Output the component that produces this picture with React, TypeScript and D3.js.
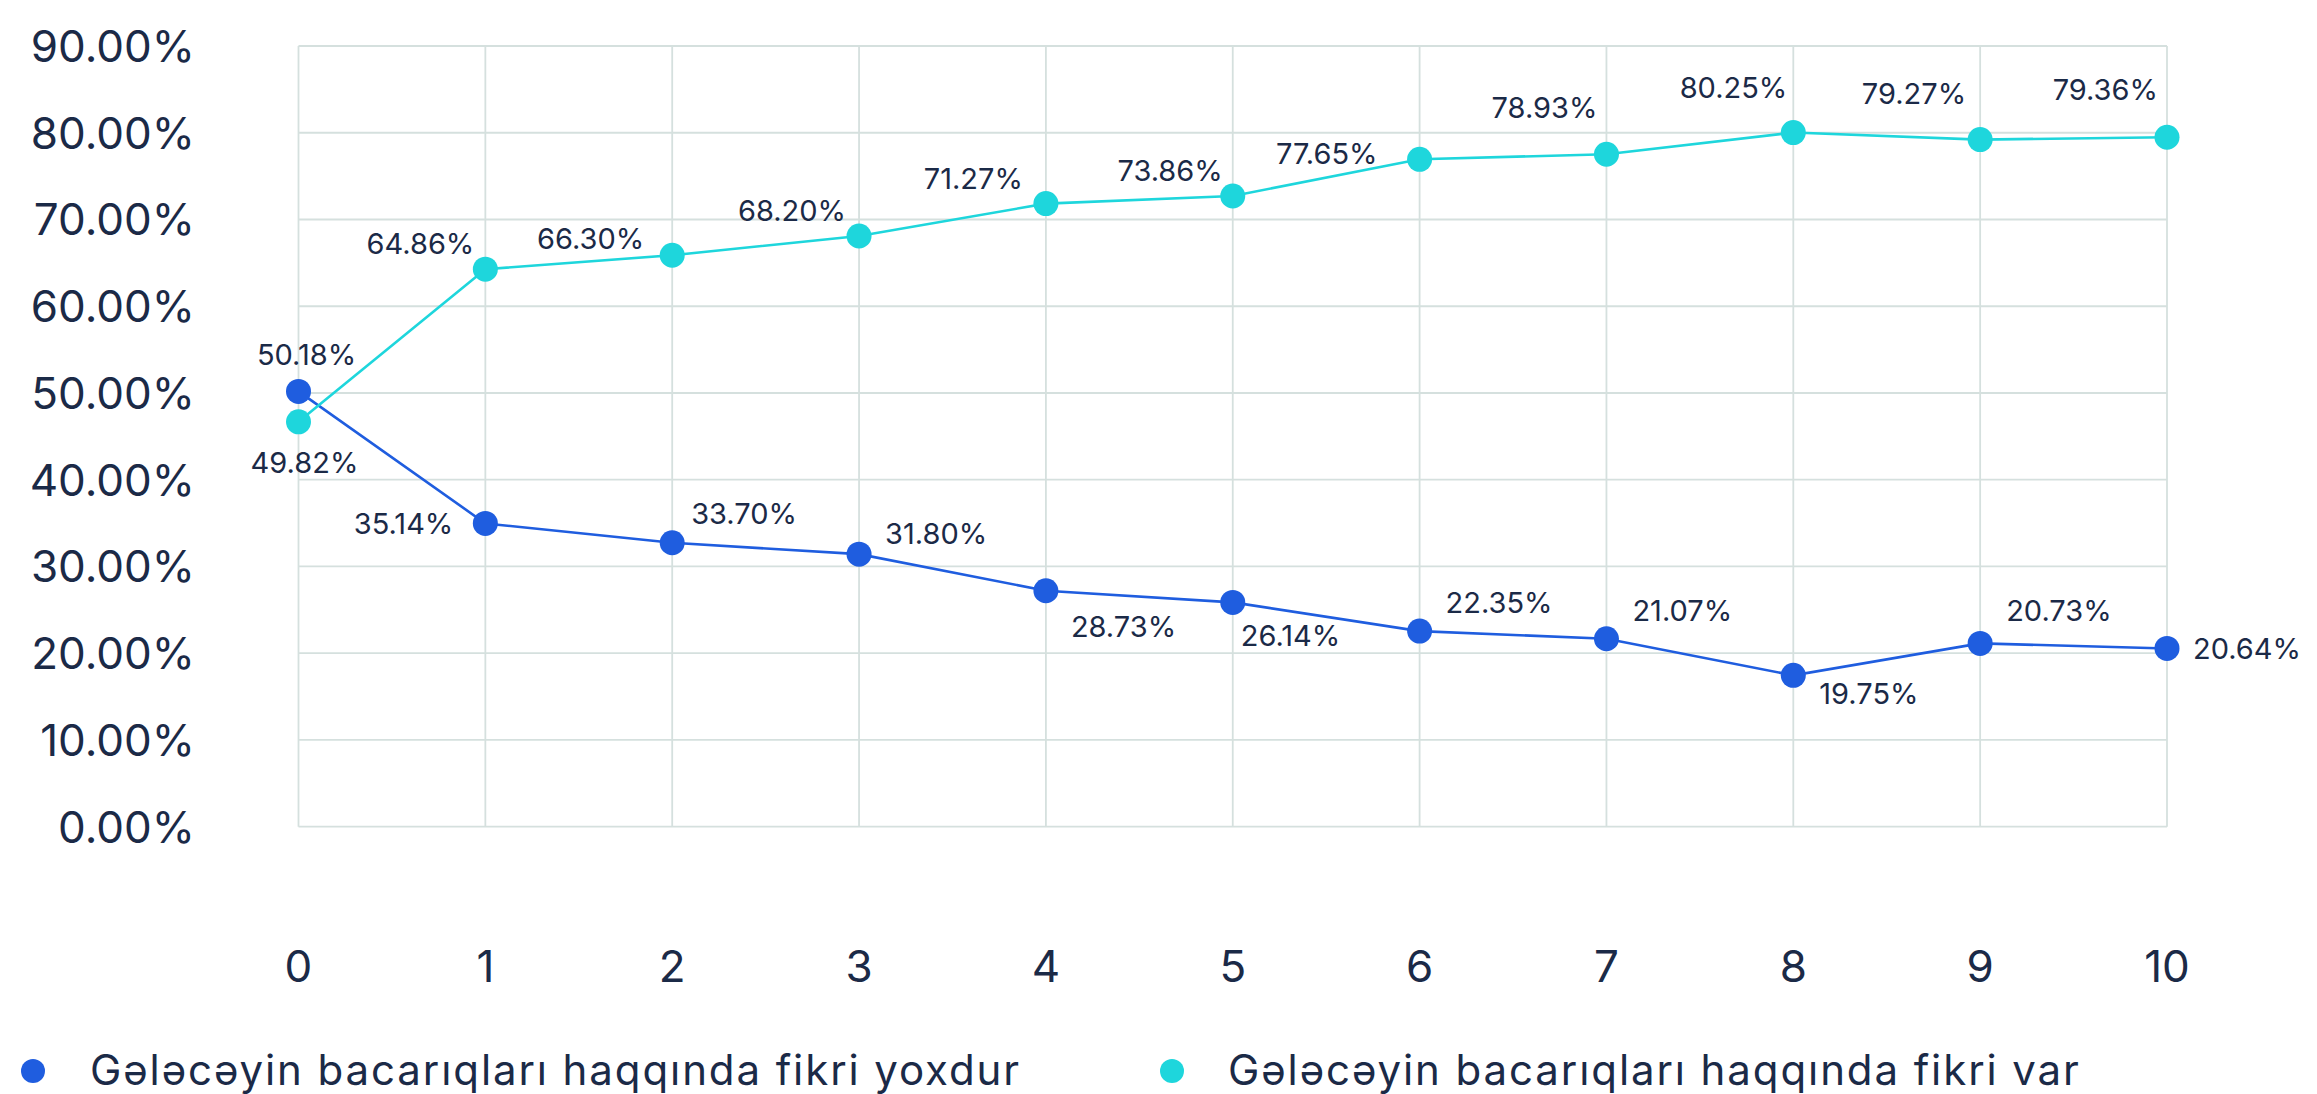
import React from "react";
import * as d3 from "d3";

const categories = [0, 1, 2, 3, 4, 5, 6, 7, 8, 9, 10];
const yTicks = [0, 10, 20, 30, 40, 50, 60, 70, 80, 90];

const seriesNames = [
  "Gələcəyin bacarıqları haqqında fikri yoxdur",
  "Gələcəyin bacarıqları haqqında fikri var",
];

// plotted values
const noOpinionValues = [50.18, 34.96, 32.73, 31.42, 27.2, 25.86, 22.55, 21.67, 17.45, 21.13, 20.55];
const opinionValues = [46.67, 64.27, 65.88, 68.1, 71.83, 72.71, 76.94, 77.52, 80.02, 79.21, 79.48];

// printed data labels
const noOpinionLabels = ["50.18%", "35.14%", "33.70%", "31.80%", "28.73%", "26.14%", "22.35%", "21.07%", "19.75%", "20.73%", "20.64%"];
const opinionLabels = ["49.82%", "64.86%", "66.30%", "68.20%", "71.27%", "73.86%", "77.65%", "78.93%", "80.25%", "79.27%", "79.36%"];

// label placement: [dx, dy, anchor]
const noOpinionLabelPos: [number, number, string][] = [
  [8, -37, "middle"], [-32, 0, "end"], [19, -30, "start"], [26, -21, "start"],
  [25, 35, "start"], [8, 33, "start"], [26, -29, "start"], [26, -29, "start"],
  [26, 18, "start"], [26, -33, "start"], [26, 0, "start"],
];
const opinionLabelPos: [number, number, string][] = [
  [6, 40, "middle"], [-11, -26, "end"], [-28, -17, "end"], [-13, -26, "end"],
  [-23, -26, "end"], [-10, -26, "end"], [-42, -6, "end"], [-9, -47, "end"],
  [-6, -46, "end"], [-14, -47, "end"], [-9, -48, "end"],
];

const W = 2317;
const H = 1094;
const FONT = "Inter, 'Noto Sans', sans-serif";
const TEXT = "#1b2a47";
const GRID = "#d5e0de";
const DARK = "#1f5ddf";
const CYAN = "#1ed6dc";

export default function App() {
  const x = d3.scaleLinear().domain([0, 10]).range([298.5, 2167]);
  const y = d3.scaleLinear().domain([0, 90]).range([826.7, 46]);
  const line = d3
    .line<number>()
    .x((_, i) => x(categories[i]))
    .y((d) => y(d));

  const series = [
    { values: noOpinionValues, labels: noOpinionLabels, pos: noOpinionLabelPos, color: DARK },
    { values: opinionValues, labels: opinionLabels, pos: opinionLabelPos, color: CYAN },
  ];

  return (
    <svg
      width={W}
      height={H}
      style={{ position: "absolute", left: 0, top: 0, background: "#fff" }}
      fontFamily={FONT}
    >
      <rect x={0} y={0} width={W} height={H} fill="#fff" />
      {/* grid */}
      {yTicks.map((t) => (
        <line key={"h" + t} x1={x(0)} x2={x(10)} y1={y(t)} y2={y(t)} stroke={GRID} strokeWidth={1.8} />
      ))}
      {categories.map((c) => (
        <line key={"v" + c} x1={x(c)} x2={x(c)} y1={y(90)} y2={y(0)} stroke={GRID} strokeWidth={1.8} />
      ))}
      {/* y tick labels */}
      {yTicks.map((t) => (
        <text key={"yt" + t} x={195} y={y(t) + 16} textAnchor="end" fontSize={44} fill={TEXT}>
          {t.toFixed(2) + "%"}
        </text>
      ))}
      {/* x tick labels */}
      {categories.map((c) => (
        <text key={"xt" + c} x={x(c)} y={981.7} textAnchor="middle" fontSize={44} fill={TEXT}>
          {c}
        </text>
      ))}
      {/* lines */}
      {series.map((s, si) => (
        <path key={"l" + si} d={line(s.values) || ""} fill="none" stroke={s.color} strokeWidth={2.6} />
      ))}
      {/* markers */}
      {series.map((s, si) =>
        s.values.map((v, i) => (
          <circle key={"m" + si + "-" + i} cx={x(categories[i])} cy={y(v)} r={12.5} fill={s.color} />
        ))
      )}
      {/* data labels */}
      {series.map((s, si) =>
        s.values.map((v, i) => (
          <text
            key={"dl" + si + "-" + i}
            x={x(categories[i]) + s.pos[i][0]}
            y={y(v) + s.pos[i][1] + 11}
            textAnchor={s.pos[i][2] as any}
            fontSize={29}
            fill={TEXT}
          >
            {s.labels[i]}
          </text>
        ))
      )}
      {/* legend */}
      <circle cx={33} cy={1071} r={12} fill={DARK} />
      <text x={90} y={1085} fontSize={42} letterSpacing={1.9} fill={TEXT}>
        {seriesNames[0]}
      </text>
      <circle cx={1172} cy={1071} r={12} fill={CYAN} />
      <text x={1228} y={1085} fontSize={42} letterSpacing={1.9} fill={TEXT}>
        {seriesNames[1]}
      </text>
    </svg>
  );
}
